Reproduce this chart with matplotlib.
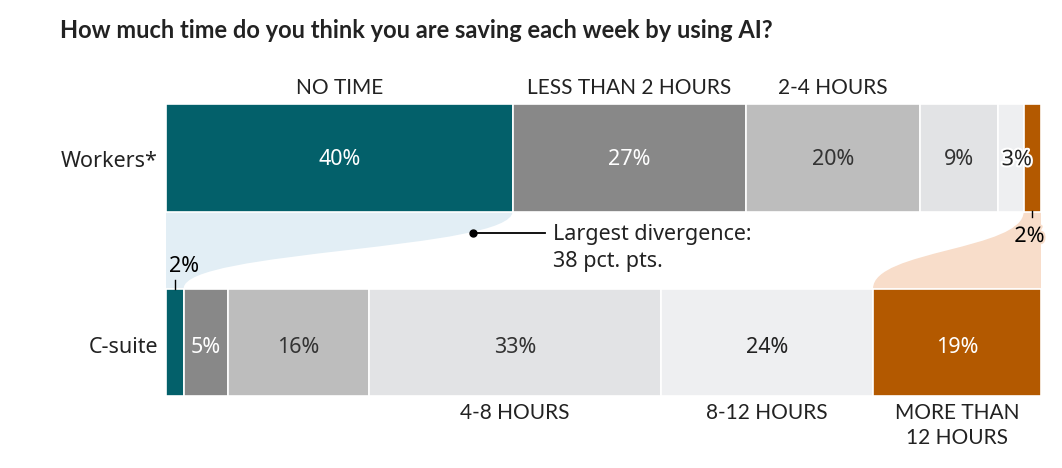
import matplotlib.pyplot as plt
import numpy as np
from matplotlib.path import Path
from matplotlib.patches import PathPatch
import matplotlib.patheffects as pe

# data
groups = ['Workers*', 'C-suite']
categories = ['NO TIME', 'LESS THAN 2 HOURS', '2-4 HOURS', '4-8 HOURS',
              '8-12 HOURS', 'MORE THAN\n12 HOURS']
workers = [40, 27, 20, 9, 3, 2]
csuite = [2, 5, 16, 33, 24, 19]

colors = ['#03606a', '#888888', '#bdbdbd', '#e2e3e5', '#eeeff1', '#b35900']
txt_colors = ['white', 'white', '#333333', '#333333', '#222222', 'white']
blue_band = '#e2eef5'
orange_band = '#f8ddca'

label_font = ['Lato', 'DejaVu Sans']
num_font = ['Noto Sans', 'DejaVu Sans']

fig = plt.figure(figsize=(10.62, 4.68), dpi=100)
ax = fig.add_axes([166 / 1062, 72 / 468, 875 / 1062, 292 / 468])

h = 107.5 / 184.5
y_w, y_c = 1, 0
ax.set_xlim(0, 100)
ax.set_ylim(-h / 2, 1 + h / 2)
ax.axis('off')

# each bar fills the full width
w_norm = np.array(workers) / sum(workers) * 100
c_norm = np.array(csuite) / sum(csuite) * 100
w_left = np.concatenate([[0], np.cumsum(w_norm)[:-1]])
c_left = np.concatenate([[0], np.cumsum(c_norm)[:-1]])

ax.barh(y_w, w_norm, left=w_left, height=h, color=colors, edgecolor='white', linewidth=1.2)
ax.barh(y_c, c_norm, left=c_left, height=h, color=colors, edgecolor='white', linewidth=1.2)

w_bot = y_w - h / 2
c_top = y_c + h / 2
mid = (w_bot + c_top) / 2


def band(x_top_a, x_top_b, x_bot_a, x_bot_b, color, curve_right=True):
    # band from bottom edge of workers to top edge of c-suite
    if curve_right:
        verts = [(x_top_a, w_bot), (x_top_b, w_bot),
                 (x_top_b, mid), (x_bot_b, mid), (x_bot_b, c_top),
                 (x_bot_a, c_top), (x_top_a, w_bot)]
        codes = [Path.MOVETO, Path.LINETO, Path.CURVE4, Path.CURVE4, Path.CURVE4,
                 Path.LINETO, Path.CLOSEPOLY]
    else:
        verts = [(x_bot_a, c_top), (x_bot_a, mid), (x_top_a, mid), (x_top_a, w_bot),
                 (x_top_b, w_bot), (x_bot_b, c_top), (x_bot_a, c_top)]
        codes = [Path.MOVETO, Path.CURVE4, Path.CURVE4, Path.CURVE4,
                 Path.LINETO, Path.LINETO, Path.CLOSEPOLY]
    ax.add_patch(PathPatch(Path(verts, codes), facecolor=color, edgecolor='none', zorder=0))


band(0, w_norm[0], 0, c_norm[0], blue_band, curve_right=True)
band(w_left[5], 100, c_left[5], 100, orange_band, curve_right=False)

px = 1 / 184.5  # one pixel in y data units
xpx = 100 / 875  # one pixel in x data units
fs = 15.5

# value labels
for i in range(6):
    cx = w_left[i] + w_norm[i] / 2
    if i < 4:
        ax.text(cx, y_w - 2 * px, f'{workers[i]}%', ha='center', va='center', fontsize=fs,
                color=txt_colors[i], family=num_font)
    cx = c_left[i] + c_norm[i] / 2
    if i > 0:
        ax.text(cx, y_c - 5 * px, f'{csuite[i]}%', ha='center', va='center', fontsize=fs,
                color=txt_colors[i], family=num_font)

# 3% workers with halo
ax.text(w_left[4] + w_norm[4] / 2 + 6 * xpx, y_w - 2 * px, f'{workers[4]}%', ha='center',
        va='center', fontsize=fs, color='#222222', family=num_font,
        path_effects=[pe.withStroke(linewidth=3, foreground='white')], zorder=5)

# 2% workers below bar
cx = w_left[5] + w_norm[5] / 2
ax.plot([cx, cx], [w_bot, w_bot - 6 * px], color='black', lw=1, clip_on=False)
ax.text(cx - 3 * xpx, w_bot - 25 * px, f'{workers[5]}%', ha='center', va='center',
        fontsize=fs, color='black', family=num_font,
        path_effects=[pe.withStroke(linewidth=3, foreground=orange_band)])

# 2% c-suite above bar
cx = c_norm[0] / 2
ax.plot([cx, cx], [c_top, c_top + 9 * px], color='black', lw=1, clip_on=False)
ax.text(cx - 6 * xpx, c_top + 22 * px, f'{csuite[0]}%', ha='left', va='center',
        fontsize=fs, color='black', family=num_font)

# category labels
for i in range(3):
    ax.text(w_left[i] + w_norm[i] / 2, 1 + h / 2 + 16 * px, categories[i], ha='center',
            va='center', fontsize=15, color='#222222', family=label_font, clip_on=False)
for i in range(3, 6):
    ax.text(c_left[i] + c_norm[i] / 2, -h / 2 - 7 * px, categories[i], ha='center',
            va='top', fontsize=15, color='#222222', family=label_font, clip_on=False,
            linespacing=1.3)

# group labels
ax.text(-8 * xpx, y_w - 4 * px, groups[0], ha='right', va='center', fontsize=15.5,
        color='#222222', family=num_font, clip_on=False)
ax.text(-8 * xpx, y_c - 5 * px, groups[1], ha='right', va='center', fontsize=15.5,
        color='#222222', family=num_font, clip_on=False)

# annotation
ay = w_bot - 22 * px
ax.plot([(473 - 166) * xpx, (545 - 166) * xpx], [ay, ay], color='black', lw=1.3)
ax.plot([(473 - 166) * xpx], [ay], 'o', color='black', ms=5)
ax.text((553 - 166) * xpx, ay + 9 * px, 'Largest divergence:\n38 pct. pts.', ha='left', va='top',
        fontsize=15.5, color='#222222', family=num_font, linespacing=1.35)

fig.text(60 / 1062, 1 - 31 / 468, 'How much time do you think you are saving each week by using AI?',
         ha='left', va='center', fontsize=17, fontweight='bold', color='#222222',
         family=label_font)

fig.savefig('out.png', dpi=100)
